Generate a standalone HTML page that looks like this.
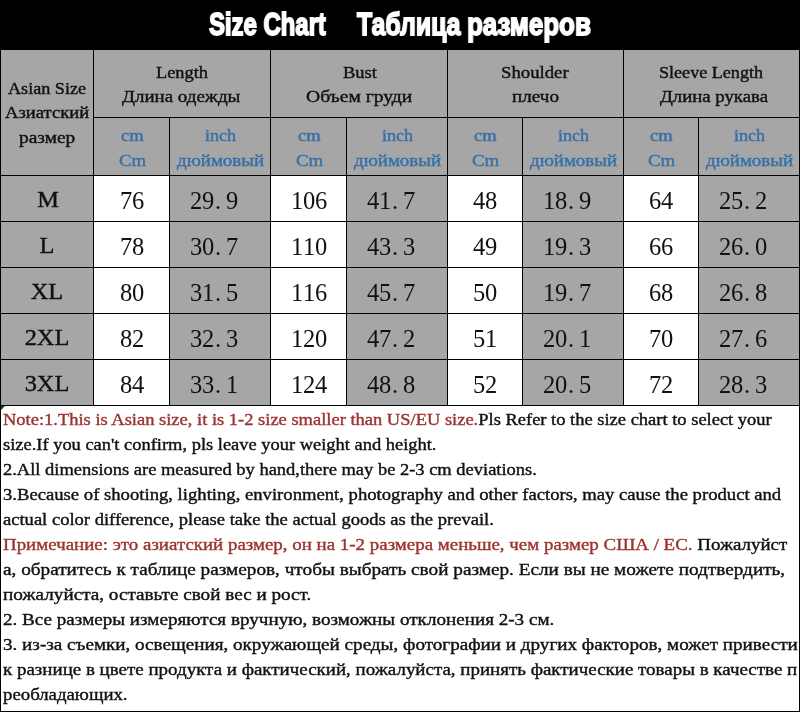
<!DOCTYPE html>
<html><head><meta charset="utf-8"><style>
html,body{margin:0;padding:0;background:#fff;}
body{width:800px;height:712px;position:relative;overflow:hidden;}
body.m{height:1400px;}
.b{position:absolute;}
.s,.num,.title{will-change:transform;}
.s{position:absolute;transform-origin:0 0;line-height:1;font-family:"Liberation Serif",serif;white-space:nowrap;-webkit-text-stroke:0.4px currentColor;}
.mm .s{-webkit-text-stroke:0;}
.title{position:absolute;transform-origin:0 0;font-family:"Liberation Sans",sans-serif;font-weight:bold;color:#fff;line-height:1;white-space:nowrap;-webkit-text-stroke:1.8px #fff;}
.num{position:absolute;line-height:1;font-family:"Liberation Serif",serif;white-space:nowrap;font-size:24.5px;color:#111;}
.num i{font-style:normal;display:inline-block;width:12px;text-align:center;}
.num i.p{text-align:left;text-indent:1px;}
</style></head><body>
<div class="b" style="left:0px;top:0px;width:800px;height:50px;background:#000"></div>
<div class="b" style="left:0px;top:50px;width:800px;height:355px;background:#a6a6a6"></div>
<div class="b" style="left:93px;top:175px;width:76px;height:230px;background:#fff"></div>
<div class="b" style="left:270px;top:175px;width:76px;height:230px;background:#fff"></div>
<div class="b" style="left:447px;top:175px;width:75px;height:230px;background:#fff"></div>
<div class="b" style="left:623px;top:175px;width:75px;height:230px;background:#fff"></div>
<div class="b" style="left:0px;top:50px;width:1px;height:356px;background:#000"></div>
<div class="b" style="left:93px;top:50px;width:1px;height:356px;background:#000"></div>
<div class="b" style="left:169px;top:117px;width:1px;height:289px;background:#000"></div>
<div class="b" style="left:270px;top:50px;width:1px;height:356px;background:#000"></div>
<div class="b" style="left:346px;top:117px;width:1px;height:289px;background:#000"></div>
<div class="b" style="left:447px;top:50px;width:1px;height:356px;background:#000"></div>
<div class="b" style="left:522px;top:117px;width:1px;height:289px;background:#000"></div>
<div class="b" style="left:623px;top:50px;width:1px;height:356px;background:#000"></div>
<div class="b" style="left:698px;top:117px;width:1px;height:289px;background:#000"></div>
<div class="b" style="left:799px;top:50px;width:1px;height:356px;background:#000"></div>
<div class="b" style="left:93px;top:117px;width:706px;height:1px;background:#000"></div>
<div class="b" style="left:0px;top:175px;width:800px;height:1px;background:#000"></div>
<div class="b" style="left:0px;top:221px;width:800px;height:1px;background:#000"></div>
<div class="b" style="left:0px;top:267px;width:800px;height:1px;background:#000"></div>
<div class="b" style="left:0px;top:313px;width:800px;height:1px;background:#000"></div>
<div class="b" style="left:0px;top:359px;width:800px;height:1px;background:#000"></div>
<div class="b" style="left:0px;top:405px;width:800px;height:1px;background:#000"></div>
<div class="b" style="left:0px;top:405px;width:1px;height:307px;background:#000"></div>
<div class="b" style="left:799px;top:405px;width:1px;height:307px;background:#000"></div>
<div class="b" style="left:0px;top:711px;width:800px;height:1px;background:#000"></div>
<div class="b" style="left:1px;top:406px;width:0;height:0;border-top:4px solid #1c3f1c;border-right:4px solid transparent"></div>
<div class="title" style="left:208.75px;top:8.21px;font-size:32px;transform:scaleX(0.7468)">Size Chart</div>
<div class="title" style="left:356.78px;top:8.21px;font-size:32px;transform:scaleX(0.7759)">Таблица</div>
<div class="title" style="left:467.44px;top:8.21px;font-size:32px;transform:scaleX(0.8089)">размеров</div>
<div class="s" style="left:8.10px;top:79.56px;font-size:17px;color:#111;transform:scaleX(1.0671)">Asian Size</div>
<div class="s" style="left:4.50px;top:104.36px;font-size:17px;color:#111;transform:scaleX(1.0961)">Азиатский</div>
<div class="s" style="left:19.00px;top:129.46px;font-size:17px;color:#111;transform:scaleX(1.1388)">размер</div>
<div class="s" style="left:156.00px;top:63.61px;font-size:17px;color:#111;transform:scaleX(1.0792)">Length</div>
<div class="s" style="left:122.30px;top:88.06px;font-size:17px;color:#111;transform:scaleX(1.1151)">Длина одежды</div>
<div class="s" style="left:342.50px;top:63.61px;font-size:17px;color:#111;transform:scaleX(1.0871)">Bust</div>
<div class="s" style="left:306.10px;top:88.06px;font-size:17px;color:#111;transform:scaleX(1.1511)">Объем груди</div>
<div class="s" style="left:501.40px;top:63.61px;font-size:17px;color:#111;transform:scaleX(1.1016)">Shoulder</div>
<div class="s" style="left:512.20px;top:88.06px;font-size:17px;color:#111;transform:scaleX(1.1244)">плечо</div>
<div class="s" style="left:658.69px;top:63.61px;font-size:17px;color:#111;transform:scaleX(1.0644)">Sleeve Length</div>
<div class="s" style="left:660.10px;top:88.06px;font-size:17px;color:#111;transform:scaleX(1.1051)">Длина рукава</div>
<div class="s" style="left:120.50px;top:126.56px;font-size:17px;color:#3470a8;transform:scaleX(1.0952)">cm</div>
<div class="s" style="left:118.70px;top:151.76px;font-size:17px;color:#3470a8;transform:scaleX(1.1083)">Cm</div>
<div class="s" style="left:204.90px;top:126.56px;font-size:17px;color:#3470a8;transform:scaleX(1.0621)">inch</div>
<div class="s" style="left:176.90px;top:151.76px;font-size:17px;color:#3470a8;transform:scaleX(1.1128)">дюймовый</div>
<div class="s" style="left:297.50px;top:126.56px;font-size:17px;color:#3470a8;transform:scaleX(1.0952)">cm</div>
<div class="s" style="left:295.70px;top:151.76px;font-size:17px;color:#3470a8;transform:scaleX(1.1083)">Cm</div>
<div class="s" style="left:381.90px;top:126.56px;font-size:17px;color:#3470a8;transform:scaleX(1.0621)">inch</div>
<div class="s" style="left:353.90px;top:151.76px;font-size:17px;color:#3470a8;transform:scaleX(1.1128)">дюймовый</div>
<div class="s" style="left:474.00px;top:126.56px;font-size:17px;color:#3470a8;transform:scaleX(1.0952)">cm</div>
<div class="s" style="left:472.20px;top:151.76px;font-size:17px;color:#3470a8;transform:scaleX(1.1083)">Cm</div>
<div class="s" style="left:557.90px;top:126.56px;font-size:17px;color:#3470a8;transform:scaleX(1.0621)">inch</div>
<div class="s" style="left:529.90px;top:151.76px;font-size:17px;color:#3470a8;transform:scaleX(1.1128)">дюймовый</div>
<div class="s" style="left:650.00px;top:126.56px;font-size:17px;color:#3470a8;transform:scaleX(1.0952)">cm</div>
<div class="s" style="left:648.20px;top:151.76px;font-size:17px;color:#3470a8;transform:scaleX(1.1083)">Cm</div>
<div class="s" style="left:733.90px;top:126.56px;font-size:17px;color:#3470a8;transform:scaleX(1.0621)">inch</div>
<div class="s" style="left:705.90px;top:151.76px;font-size:17px;color:#3470a8;transform:scaleX(1.1128)">дюймовый</div>
<div class="s" style="left:3.00px;top:410.64px;font-size:17.5px;color:#111;transform:scaleX(1.0559)"><span style="color:#9c3330">Note:1.This is Asian size, it is 1-2 size smaller than US/EU size.</span>Pls Refer to the size chart to select your</div>
<div class="s" style="left:3.00px;top:435.64px;font-size:17.5px;color:#111;transform:scaleX(1.0537)">size.If you can't confirm, pls leave your weight and height.</div>
<div class="s" style="left:3.00px;top:460.64px;font-size:17.5px;color:#111;transform:scaleX(1.0553)">2.All dimensions are measured by hand,there may be 2-3 cm deviations.</div>
<div class="s" style="left:3.00px;top:485.64px;font-size:17.5px;color:#111;transform:scaleX(1.0661)">3.Because of shooting, lighting, environment, photography and other factors, may cause the product and</div>
<div class="s" style="left:3.00px;top:510.64px;font-size:17.5px;color:#111;transform:scaleX(1.0596)">actual color difference, please take the actual goods as the prevail.</div>
<div class="s" style="left:3.00px;top:535.64px;font-size:17.5px;color:#111;transform:scaleX(1.0809)"><span style="color:#9c3330">Примечание: это азиатский размер, он на 1-2 размера меньше, чем размер США / ЕС.</span> Пожалуйст</div>
<div class="s" style="left:3.00px;top:560.64px;font-size:17.5px;color:#111;transform:scaleX(1.0989)">а, обратитесь к таблице размеров, чтобы выбрать свой размер. Если вы не можете подтвердить,</div>
<div class="s" style="left:3.00px;top:585.64px;font-size:17.5px;color:#111;transform:scaleX(1.0945)">пожалуйста, оставьте свой вес и рост.</div>
<div class="s" style="left:3.00px;top:610.64px;font-size:17.5px;color:#111;transform:scaleX(1.0918)">2. Все размеры измеряются вручную, возможны отклонения 2-3 см.</div>
<div class="s" style="left:3.00px;top:635.64px;font-size:17.5px;color:#111;transform:scaleX(1.0921)">3. из-за съемки, освещения, окружающей среды, фотографии и других факторов, может привести</div>
<div class="s" style="left:3.00px;top:660.64px;font-size:17.5px;color:#111;transform:scaleX(1.0834)">к разнице в цвете продукта и фактический, пожалуйста, принять фактические товары в качестве п</div>
<div class="s" style="left:3.00px;top:685.64px;font-size:17.5px;color:#111;transform:scaleX(1.0742)">реобладающих.</div>
<div class="s" style="left:-102.3px;width:300px;text-align:center;transform-origin:50% 0;transform:scaleX(1.06);top:187.74px;font-size:23px;color:#111">M</div>
<div class="num" style="left:119.80px;top:188.68px;"><i>7</i><i>6</i></div>
<div class="num" style="left:190.30px;top:188.68px;"><i>2</i><i>9</i><i class="p">.</i><i>9</i></div>
<div class="num" style="left:290.80px;top:188.68px;"><i>1</i><i>0</i><i>6</i></div>
<div class="num" style="left:367.30px;top:188.68px;"><i>4</i><i>1</i><i class="p">.</i><i>7</i></div>
<div class="num" style="left:473.30px;top:188.68px;"><i>4</i><i>8</i></div>
<div class="num" style="left:543.30px;top:188.68px;"><i>1</i><i>8</i><i class="p">.</i><i>9</i></div>
<div class="num" style="left:649.30px;top:188.68px;"><i>6</i><i>4</i></div>
<div class="num" style="left:719.30px;top:188.68px;"><i>2</i><i>5</i><i class="p">.</i><i>2</i></div>
<div class="s" style="left:-103.5px;width:300px;text-align:center;transform-origin:50% 0;transform:scaleX(1.06);top:233.74px;font-size:23px;color:#111">L</div>
<div class="num" style="left:119.80px;top:234.68px;"><i>7</i><i>8</i></div>
<div class="num" style="left:190.30px;top:234.68px;"><i>3</i><i>0</i><i class="p">.</i><i>7</i></div>
<div class="num" style="left:290.80px;top:234.68px;"><i>1</i><i>1</i><i>0</i></div>
<div class="num" style="left:367.30px;top:234.68px;"><i>4</i><i>3</i><i class="p">.</i><i>3</i></div>
<div class="num" style="left:473.30px;top:234.68px;"><i>4</i><i>9</i></div>
<div class="num" style="left:543.30px;top:234.68px;"><i>1</i><i>9</i><i class="p">.</i><i>3</i></div>
<div class="num" style="left:649.30px;top:234.68px;"><i>6</i><i>6</i></div>
<div class="num" style="left:719.30px;top:234.68px;"><i>2</i><i>6</i><i class="p">.</i><i>0</i></div>
<div class="s" style="left:-103.5px;width:300px;text-align:center;transform-origin:50% 0;transform:scaleX(1.06);top:279.74px;font-size:23px;color:#111">XL</div>
<div class="num" style="left:119.80px;top:280.68px;"><i>8</i><i>0</i></div>
<div class="num" style="left:190.30px;top:280.68px;"><i>3</i><i>1</i><i class="p">.</i><i>5</i></div>
<div class="num" style="left:290.80px;top:280.68px;"><i>1</i><i>1</i><i>6</i></div>
<div class="num" style="left:367.30px;top:280.68px;"><i>4</i><i>5</i><i class="p">.</i><i>7</i></div>
<div class="num" style="left:473.30px;top:280.68px;"><i>5</i><i>0</i></div>
<div class="num" style="left:543.30px;top:280.68px;"><i>1</i><i>9</i><i class="p">.</i><i>7</i></div>
<div class="num" style="left:649.30px;top:280.68px;"><i>6</i><i>8</i></div>
<div class="num" style="left:719.30px;top:280.68px;"><i>2</i><i>6</i><i class="p">.</i><i>8</i></div>
<div class="s" style="left:-103.5px;width:300px;text-align:center;transform-origin:50% 0;transform:scaleX(1.06);top:325.74px;font-size:23px;color:#111">2XL</div>
<div class="num" style="left:119.80px;top:326.68px;"><i>8</i><i>2</i></div>
<div class="num" style="left:190.30px;top:326.68px;"><i>3</i><i>2</i><i class="p">.</i><i>3</i></div>
<div class="num" style="left:290.80px;top:326.68px;"><i>1</i><i>2</i><i>0</i></div>
<div class="num" style="left:367.30px;top:326.68px;"><i>4</i><i>7</i><i class="p">.</i><i>2</i></div>
<div class="num" style="left:473.30px;top:326.68px;"><i>5</i><i>1</i></div>
<div class="num" style="left:543.30px;top:326.68px;"><i>2</i><i>0</i><i class="p">.</i><i>1</i></div>
<div class="num" style="left:649.30px;top:326.68px;"><i>7</i><i>0</i></div>
<div class="num" style="left:719.30px;top:326.68px;"><i>2</i><i>7</i><i class="p">.</i><i>6</i></div>
<div class="s" style="left:-103.5px;width:300px;text-align:center;transform-origin:50% 0;transform:scaleX(1.06);top:371.74px;font-size:23px;color:#111">3XL</div>
<div class="num" style="left:119.80px;top:372.68px;"><i>8</i><i>4</i></div>
<div class="num" style="left:190.30px;top:372.68px;"><i>3</i><i>3</i><i class="p">.</i><i>1</i></div>
<div class="num" style="left:290.80px;top:372.68px;"><i>1</i><i>2</i><i>4</i></div>
<div class="num" style="left:367.30px;top:372.68px;"><i>4</i><i>8</i><i class="p">.</i><i>8</i></div>
<div class="num" style="left:473.30px;top:372.68px;"><i>5</i><i>2</i></div>
<div class="num" style="left:543.30px;top:372.68px;"><i>2</i><i>0</i><i class="p">.</i><i>5</i></div>
<div class="num" style="left:649.30px;top:372.68px;"><i>7</i><i>2</i></div>
<div class="num" style="left:719.30px;top:372.68px;"><i>2</i><i>8</i><i class="p">.</i><i>3</i></div>
</body></html>
